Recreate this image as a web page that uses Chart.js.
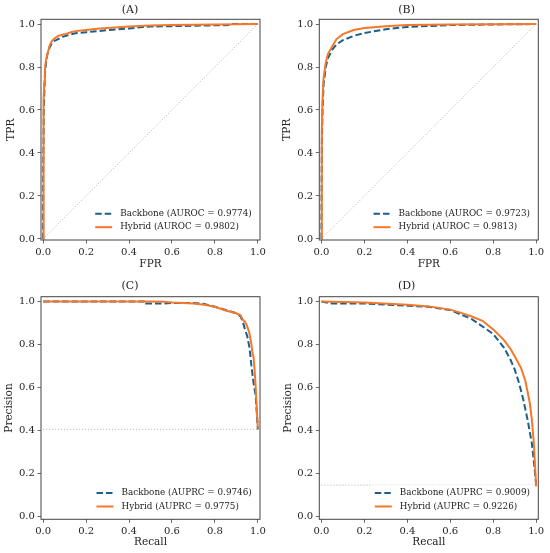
<!DOCTYPE html>
<html>
<head>
<meta charset="utf-8">
<script src="https://cdn.jsdelivr.net/npm/chart.js@4.4.0/dist/chart.umd.min.js"></script>
<style>
  html, body { margin: 0; padding: 0; background: #fff; }
  .panel { position: absolute; }
</style>
</head>
<body>
<div class="panel" style="left:0px;top:0px;width:275px;height:276px"><canvas id="chartA"></canvas></div>
<div class="panel" style="left:275px;top:0px;width:275px;height:276px"><canvas id="chartB"></canvas></div>
<div class="panel" style="left:0px;top:276px;width:275px;height:277px"><canvas id="chartC"></canvas></div>
<div class="panel" style="left:275px;top:276px;width:275px;height:277px"><canvas id="chartD"></canvas></div>
<script>
// four panels: ROC (A, B) and precision-recall (C, D), backbone vs hybrid

const tickValues = [0, 0.2, 0.4, 0.6, 0.8, 1.0];

// (A) ROC
const aBackboneFpr = [0, 0, 0.002, 0.003, 0.005, 0.007, 0.01, 0.015, 0.02, 0.03, 0.04, 0.05, 0.07, 0.09, 0.12, 0.15, 0.2, 0.25, 0.3, 0.35, 0.4, 0.45, 0.5, 0.6, 0.7, 0.8, 0.87, 0.88, 1.0];
const aBackboneTpr = [0, 0.3, 0.47, 0.6, 0.66, 0.74, 0.79, 0.83, 0.86, 0.89, 0.91, 0.92, 0.93, 0.94, 0.95, 0.957, 0.962, 0.966, 0.972, 0.976, 0.979, 0.985, 0.988, 0.99, 0.992, 0.994, 0.995, 1.0, 1.0];
const aHybridFpr = [0, 0.001, 0.003, 0.005, 0.008, 0.01, 0.015, 0.02, 0.03, 0.04, 0.05, 0.07, 0.1, 0.13, 0.15, 0.2, 0.25, 0.3, 0.4, 0.5, 0.6, 0.7, 0.8, 0.9, 1.0];
const aHybridTpr = [0, 0.55, 0.65, 0.72, 0.78, 0.81, 0.84, 0.86, 0.9, 0.92, 0.93, 0.945, 0.952, 0.962, 0.967, 0.972, 0.978, 0.982, 0.988, 0.993, 0.995, 0.997, 0.998, 0.999, 1.0];

// (B) ROC
const bBackboneFpr = [0, 0.001, 0.002, 0.005, 0.01, 0.02, 0.03, 0.05, 0.07, 0.1, 0.15, 0.2, 0.3, 0.4, 0.5, 0.6, 0.8, 1.0];
const bBackboneTpr = [0, 0.3, 0.45, 0.6, 0.72, 0.8, 0.84, 0.88, 0.905, 0.925, 0.945, 0.958, 0.976, 0.986, 0.991, 0.995, 0.998, 1.0];
const bHybridFpr = [0, 0.001, 0.002, 0.005, 0.01, 0.02, 0.03, 0.05, 0.07, 0.1, 0.15, 0.2, 0.3, 0.4, 0.6, 0.8, 1.0];
const bHybridTpr = [0, 0.35, 0.5, 0.65, 0.75, 0.82, 0.86, 0.895, 0.93, 0.953, 0.972, 0.982, 0.99, 0.995, 0.998, 0.999, 1.0];

// (C) precision-recall
const cBackboneRecall = [0, 0.3, 0.48, 0.48, 0.56, 0.6, 0.7, 0.75, 0.8, 0.85, 0.9, 0.92, 0.93, 0.94, 0.95, 0.96, 0.965, 0.97, 0.98, 0.99, 1.0];
const cBackbonePrecision = [1.0, 1.0, 1.0, 0.99, 0.99, 0.993, 0.993, 0.988, 0.975, 0.96, 0.945, 0.93, 0.905, 0.87, 0.84, 0.79, 0.75, 0.7, 0.62, 0.56, 0.405];
const cHybridRecall = [0, 0.5, 0.56, 0.6, 0.7, 0.75, 0.8, 0.85, 0.9, 0.92, 0.93, 0.94, 0.95, 0.96, 0.97, 0.975, 0.98, 0.985, 0.99, 0.995, 1.0];
const cHybridPrecision = [1.0, 1.0, 0.998, 0.995, 0.99, 0.985, 0.975, 0.958, 0.945, 0.935, 0.915, 0.905, 0.885, 0.855, 0.8, 0.76, 0.74, 0.68, 0.6, 0.5, 0.41];
const cPrevalence = 0.405;

// (D) precision-recall
const dBackboneRecall = [0, 0.05, 0.2, 0.3, 0.4, 0.5, 0.6, 0.7, 0.77, 0.8, 0.85, 0.88, 0.9, 0.92, 0.94, 0.96, 0.98, 0.99, 1.0];
const dBackbonePrecision = [1.0, 0.99, 0.99, 0.985, 0.98, 0.975, 0.96, 0.918, 0.87, 0.848, 0.785, 0.73, 0.684, 0.622, 0.544, 0.45, 0.34, 0.25, 0.145];
const dHybridRecall = [0, 0.2, 0.4, 0.5, 0.6, 0.65, 0.7, 0.75, 0.8, 0.85, 0.88, 0.9, 0.93, 0.95, 0.97, 0.98, 0.99, 1.0];
const dHybridPrecision = [1.0, 0.995, 0.985, 0.977, 0.962, 0.947, 0.93, 0.91, 0.87, 0.82, 0.78, 0.745, 0.69, 0.63, 0.53, 0.45, 0.33, 0.14];
const dPrevalence = 0.146;

const BLUE = '#1b5f8c';
const ORANGE = '#f4772a';
const SPINE = '#444';
const TEXT = '#222';
const FONT = '"DejaVu Serif", serif';

Chart.defaults.font.family = FONT;
Chart.defaults.color = TEXT;

function pts(xs, ys) {
    return xs.map((x, i) => ({x: x, y: ys[i]}));
}

function curve(label, xs, ys, color, dash, order) {
    return {
        label: label,
        data: pts(xs, ys),
        borderColor: color,
        borderWidth: 2,
        borderDash: dash,
        showLine: true,
        pointRadius: 0,
        tension: 0,
        order: order
    };
}

function chanceLine(xs, ys) {
    return {
        label: '',
        data: pts(xs, ys),
        borderColor: '#a0a0a0',
        borderWidth: 0.8,
        borderDash: [1, 2],
        showLine: true,
        pointRadius: 0,
        order: 3
    };
}

// full box around the plot area, like matplotlib spines
const boxPlugin = {
    id: 'box',
    afterDatasetsDraw(chart) {
        const a = chart.chartArea;
        const ctx = chart.ctx;
        ctx.save();
        ctx.strokeStyle = SPINE;
        ctx.lineWidth = 1;
        ctx.strokeRect(a.left, a.top, a.right - a.left, a.bottom - a.top);
        ctx.restore();
    }
};

// legend inside the plot, lower right
const innerLegend = {
    id: 'innerLegend',
    afterDraw(chart) {
        const items = chart.data.datasets.filter(d => d.label);
        const a = chart.chartArea;
        const ctx = chart.ctx;
        ctx.save();
        ctx.font = '8.8px ' + FONT;
        const textW = Math.max(...items.map(d => ctx.measureText(d.label).width));
        const textX = a.right - 8.3 - textW;
        const lineX0 = textX - 25;
        const lineX1 = textX - 8;
        const rowH = 13.5;
        const lastY = a.bottom - 12.8;
        const firstY = lastY - (items.length - 1) * rowH;

        // white backing, frame edge left out (not visible in the original)
        ctx.fillStyle = 'rgba(255,255,255,0.8)';
        ctx.fillRect(lineX0 - 4, firstY - 8, a.right - 4 - (lineX0 - 4), lastY + 8 - (firstY - 8));

        items.forEach((d, i) => {
            const y = firstY + i * rowH;
            ctx.strokeStyle = d.borderColor;
            ctx.lineWidth = d.borderWidth;
            ctx.setLineDash(d.borderDash || []);
            ctx.beginPath();
            ctx.moveTo(lineX0, y);
            ctx.lineTo(lineX1, y);
            ctx.stroke();
            ctx.setLineDash([]);
            ctx.fillStyle = TEXT;
            ctx.textBaseline = 'middle';
            ctx.textAlign = 'left';
            ctx.fillText(d.label, textX, y);
        });
        ctx.restore();
    }
};

function axis(min, max, label, pad) {
    return {
        type: 'linear',
        min: min,
        max: max,
        afterBuildTicks: scale => { scale.ticks = tickValues.map(v => ({value: v})); },
        ticks: {
            callback: v => v.toFixed(1),
            font: {size: 10},
            color: TEXT,
            padding: 2.6,
            maxRotation: 0,
            autoSkip: false
        },
        grid: {
            drawOnChartArea: false,
            drawTicks: true,
            tickLength: 3.5,
            tickWidth: 0.8,
            tickColor: SPINE
        },
        border: {display: false},
        title: {
            display: true,
            text: label,
            font: {size: 10.5, lineHeight: 1.2},
            color: TEXT,
            padding: pad
        }
    };
}

function makePanel(p) {
    const ctx = document.getElementById(p.id);
    const xAxis = axis(-0.01, 1.01, p.xLabel, {top: 0, bottom: p.xTitleBottom});
    xAxis.afterFit = scale => { scale.height = p.height - p.bottom; };
    const yAxis = axis(p.ymin, p.ymax, p.yLabel, {top: p.yTitleLeft, bottom: 0});
    yAxis.afterFit = scale => { scale.width = p.left; };

    new Chart(ctx, {
        type: 'scatter',
        data: {datasets: p.datasets},
        options: {
            responsive: true,
            maintainAspectRatio: false,
            animation: false,
            layout: {autoPadding: false, padding: {left: 0, right: 275 - p.right, top: 0, bottom: 0}},
            scales: {x: xAxis, y: yAxis},
            plugins: {
                legend: {display: false},
                tooltip: {enabled: false},
                title: {
                    display: true,
                    text: p.title,
                    font: {size: 11, weight: 'normal', lineHeight: 1.2},
                    color: TEXT,
                    padding: {top: p.titleTop, bottom: p.top - p.titleTop - 13.2}
                }
            }
        },
        plugins: [boxPlugin, innerLegend]
    });
}

const panels = [
    {
        id: 'chartA', title: '(A)', xLabel: 'FPR', yLabel: 'TPR',
        height: 276, left: 41, right: 260, top: 19.3, bottom: 240,
        ymin: -0.005, ymax: 1.022, titleTop: 3.5, xTitleBottom: 5.2, yTitleLeft: 4.7,
        datasets: [
            curve('Backbone (AUROC = 0.9774)', aBackboneFpr, aBackboneTpr, BLUE, [6.5, 3], 2),
            curve('Hybrid (AUROC = 0.9802)', aHybridFpr, aHybridTpr, ORANGE, [], 1),
            chanceLine([0, 1], [0, 1])
        ]
    },
    {
        id: 'chartB', title: '(B)', xLabel: 'FPR', yLabel: 'TPR',
        height: 276, left: 44.3, right: 263.3, top: 19.3, bottom: 240,
        ymin: -0.005, ymax: 1.022, titleTop: 3.5, xTitleBottom: 5.2, yTitleLeft: 6.2,
        datasets: [
            curve('Backbone (AUROC = 0.9723)', bBackboneFpr, bBackboneTpr, BLUE, [6.5, 3], 2),
            curve('Hybrid (AUROC = 0.9813)', bHybridFpr, bHybridTpr, ORANGE, [], 1),
            chanceLine([0, 1], [0, 1])
        ]
    },
    {
        id: 'chartC', title: '(C)', xLabel: 'Recall', yLabel: 'Precision',
        height: 277, left: 41, right: 260, top: 20.7, bottom: 243.3,
        ymin: -0.013, ymax: 1.022, titleTop: 3.4, xTitleBottom: 4, yTitleLeft: 3.2,
        datasets: [
            curve('Backbone (AUPRC = 0.9746)', cBackboneRecall, cBackbonePrecision, BLUE, [6.5, 3], 2),
            curve('Hybrid (AUPRC = 0.9775)', cHybridRecall, cHybridPrecision, ORANGE, [], 1),
            chanceLine([0, 1], [cPrevalence, cPrevalence])
        ]
    },
    {
        id: 'chartD', title: '(D)', xLabel: 'Recall', yLabel: 'Precision',
        height: 277, left: 44.3, right: 263.3, top: 20.7, bottom: 243.3,
        ymin: -0.013, ymax: 1.022, titleTop: 3.4, xTitleBottom: 4, yTitleLeft: 6.5,
        datasets: [
            curve('Backbone (AUPRC = 0.9009)', dBackboneRecall, dBackbonePrecision, BLUE, [6.5, 3], 2),
            curve('Hybrid (AUPRC = 0.9226)', dHybridRecall, dHybridPrecision, ORANGE, [], 1),
            chanceLine([0, 1], [dPrevalence, dPrevalence])
        ]
    }
];

panels.forEach(makePanel);
</script>
</body>
</html>
